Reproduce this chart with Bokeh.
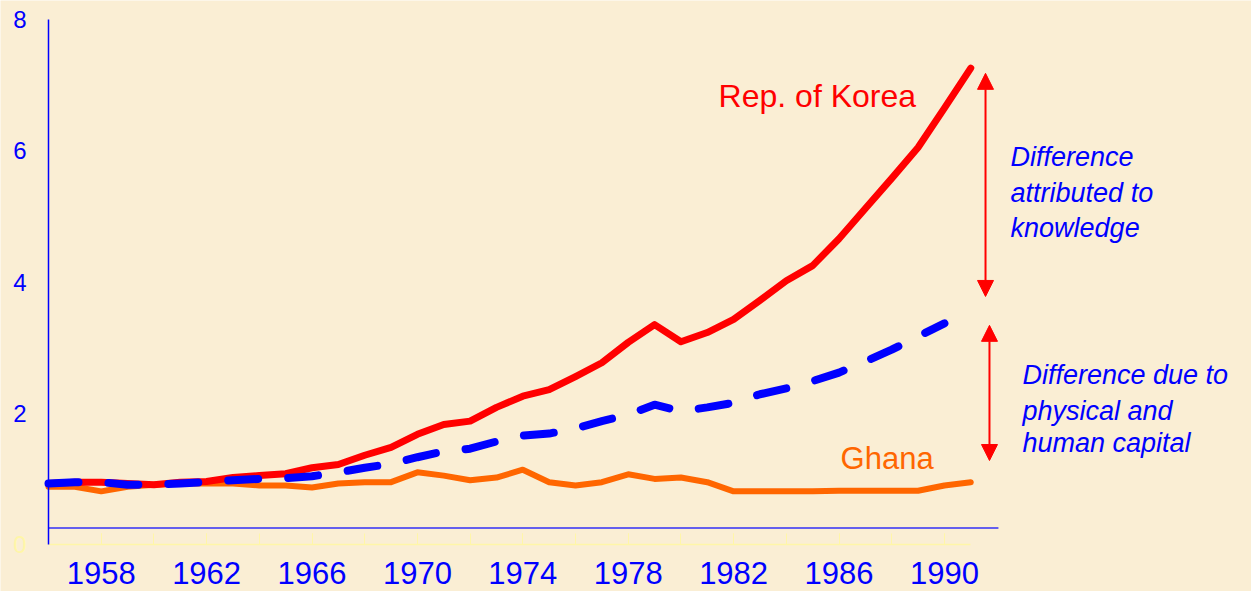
from bokeh.plotting import figure
from bokeh.models import Range1d, FixedTicker, Arrow, NormalHead
from bokeh.core.properties import value
from bokeh.embed import file_html
from bokeh.resources import INLINE

# ---- data ----
years = list(range(1956, 1992))
korea = [0.93, 0.95, 0.95, 0.93, 0.91, 0.95, 0.96, 1.02, 1.05, 1.08,
         1.17, 1.22, 1.36, 1.48, 1.68, 1.83, 1.88, 2.09, 2.26, 2.36,
         2.56, 2.77, 3.08, 3.35, 3.09, 3.23, 3.43, 3.72, 4.02, 4.25,
         4.66, 5.12, 5.58, 6.05, 6.65, 7.26]
capital_years = list(range(1956, 1991))
korea_capital = [0.93, 0.95, 0.95, 0.91, 0.91, 0.93, 0.95, 0.98, 1.00, 1.01,
                 1.04, 1.10, 1.17, 1.23, 1.33, 1.42, 1.46, 1.57, 1.66, 1.69,
                 1.77, 1.88, 1.98, 2.13, 2.03, 2.09, 2.16, 2.29, 2.38, 2.49,
                 2.62, 2.79, 2.97, 3.17, 3.37]
ghana = [0.88, 0.88, 0.81, 0.88, 0.91, 0.93, 0.93, 0.93, 0.90, 0.90,
         0.87, 0.93, 0.95, 0.95, 1.10, 1.05, 0.98, 1.02, 1.14, 0.95,
         0.90, 0.95, 1.07, 1.00, 1.02, 0.95, 0.81, 0.81, 0.81, 0.81,
         0.82, 0.82, 0.82, 0.82, 0.90, 0.95]
x_label_ticks = [1958, 1962, 1966, 1970, 1974, 1978, 1982, 1986, 1990]
x_minor_ticks = list(range(1956, 1992, 2))
y_ticks = [2, 4, 6, 8]

BG = "#FAEED4"
BLUE = "#0000FF"
RED = "#FF0000"
ORANGE = "#FF6600"
PALE = "#FFF6A8"
FONT = "Liberation Sans"

p = figure(width=1251, height=591,
           x_range=Range1d(1954.178, 2001.654), y_range=Range1d(-0.716, 8.290),
           output_backend="svg", toolbar_location=None, min_border=0)
p.background_fill_color = BG
p.border_fill_color = BG
p.outline_line_color = None
p.grid.visible = False

# x axis (pale, at y = 0)
xa = p.xaxis[0]
xa.fixed_location = 0
xa.bounds = (years[0], years[-1])
xa.ticker = FixedTicker(ticks=x_label_ticks, minor_ticks=x_minor_ticks)
xa.axis_line_color = PALE
xa.axis_line_width = 1.5
xa.major_tick_line_color = PALE
xa.minor_tick_line_color = PALE
xa.major_tick_in = 11
xa.major_tick_out = 0
xa.minor_tick_in = 11
xa.minor_tick_out = 0
xa.major_label_standoff = 17
xa.major_label_text_font = FONT
xa.major_label_text_font_size = "31px"
xa.major_label_text_color = BLUE

# y axis (blue line, no ticks)
ya = p.yaxis[0]
ya.fixed_location = years[0]
ya.bounds = (0, 8)
ya.ticker = FixedTicker(ticks=y_ticks)
ya.axis_line_color = BLUE
ya.axis_line_width = 1.5
ya.major_tick_line_color = None
ya.minor_tick_line_color = None
ya.major_label_standoff = 16
ya.major_label_text_font = FONT
ya.major_label_text_font_size = "24px"
ya.major_label_text_color = BLUE

# faint "0" label
p.text(x=[1955.165], y=[0], text=["0"], text_font=value(FONT),
       text_font_size="24px", text_color=PALE, text_align="right",
       text_baseline="middle")

# blue base line
p.segment(x0=[years[0]], y0=[0.25], x1=[years[-1] + 1.05], y1=[0.25],
          line_color=BLUE, line_width=1.5, line_alpha=0.8)

# series
p.line(years, ghana, line_color=ORANGE, line_width=6, line_join="round", line_cap="round")
p.line(years, korea, line_color=RED, line_width=7, line_join="round", line_cap="round")
p.line(capital_years, korea_capital, line_color=BLUE, line_width=8,
       line_dash="30 30", line_join="round", line_cap="round")

# series labels
p.text(x=[1981.43], y=[6.84], text=["Rep. of Korea"], text_font=value(FONT),
       text_font_size="32px", text_color=RED, text_baseline="alphabetic")
p.text(x=[1986.06], y=[1.31], text=["Ghana"], text_font=value(FONT),
       text_font_size="31px", text_color=ORANGE, text_baseline="alphabetic")

# explanation texts
p.text(x=[1992.51] * 3, y=[5.90, 5.35, 4.83],
       text=["Difference", "attributed to", "knowledge"],
       text_font=value(FONT), text_font_size="27px", text_font_style="italic",
       text_color=BLUE, text_baseline="alphabetic")
p.text(x=[1992.96] * 3, y=[2.58, 2.04, 1.54],
       text=["Difference due to", "physical and", "human capital"],
       text_font=value(FONT), text_font_size="27px", text_font_style="italic",
       text_color=BLUE, text_baseline="alphabetic")

# double-headed arrows
def head():
    return NormalHead(size=16, fill_color=RED, line_color=RED, line_width=1)

p.add_layout(Arrow(start=head(), end=head(), x_start=1991.56, y_start=3.78,
                   x_end=1991.56, y_end=7.18, line_color=RED, line_width=2))
p.add_layout(Arrow(start=head(), end=head(), x_start=1991.71, y_start=1.28,
                   x_end=1991.71, y_end=3.34, line_color=RED, line_width=2))

open("out.html", "w").write(file_html(p, INLINE))
